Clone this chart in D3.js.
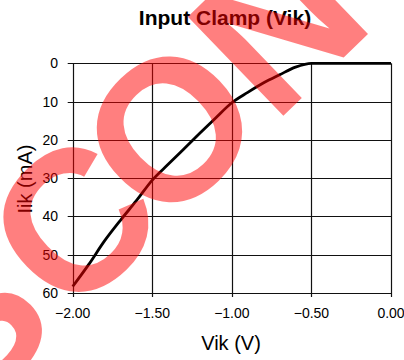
<!DOCTYPE html>
<html><head><meta charset="utf-8">
<script src="https://cdn.jsdelivr.net/npm/d3@7"></script>
<style>html,body{margin:0;padding:0;background:#fff;}svg{display:block;}</style>
</head><body>
<script>
const vik = [-2.0,-1.9,-1.8,-1.7,-1.6,-1.5,-1.4,-1.3,-1.2,-1.1,-1.0,-0.9,-0.8,-0.7,-0.6,-0.5,-0.4,-0.3,-0.2,-0.1,0.0];
const iik = [58.3,52.6,46.4,41.0,35.9,30.5,26.4,22.3,18.2,14.2,10.3,7.6,5.1,3.0,1.0,0,0,0,0,0,0];
const xTicks = [-2.0,-1.5,-1.0,-0.5,0.0];
const yTicks = [0,10,20,30,40,50,60];
const titleText = "Input Clamp (Vik)";
const xTitle = "Vik (V)";
const yTitle = "Iik (mA)";
const watermark = "DISCONTINUED";

const W = 404, H = 360;
const svg = d3.select("body").append("svg").attr("width", W).attr("height", H);
const font = "'Liberation Sans', Arial, Helvetica, sans-serif";

const x = d3.scaleLinear().domain([-2, 0]).range([72.7, 391]);
const y = d3.scaleLinear().domain([0, 60]).range([63.3, 293]);

// grid
const g = svg.append("g");
g.selectAll("line.v").data(xTicks).join("line")
  .attr("x1", d => Math.round(x(d)) + 0.5).attr("x2", d => Math.round(x(d)) + 0.5)
  .attr("y1", y(0)).attr("y2", y(60) + 4)
  .attr("stroke", "#111").attr("stroke-width", 1.2);
g.selectAll("line.h").data(yTicks).join("line")
  .attr("y1", d => Math.round(y(d)) + 0.5).attr("y2", d => Math.round(y(d)) + 0.5)
  .attr("x1", x(-2) - 5).attr("x2", x(0))
  .attr("stroke", "#111").attr("stroke-width", 1.2);

// tick labels
g.selectAll("text.yl").data(yTicks).join("text")
  .attr("x", 58).attr("y", d => y(d) + 5)
  .attr("text-anchor", "end").attr("font-family", font).attr("font-size", 14)
  .attr("fill", "#000").text(d => d);
g.selectAll("text.xl").data(xTicks).join("text")
  .attr("x", d => x(d)).attr("y", 318)
  .attr("text-anchor", "middle").attr("font-family", font).attr("font-size", 14)
  .attr("fill", "#000").text(d => d3.format(".2f")(d));

// titles
svg.append("text").attr("x", 225).attr("y", 25).attr("text-anchor", "middle")
  .attr("font-family", font).attr("font-size", 21).attr("font-weight", "bold").text(titleText);
svg.append("text").attr("x", 231).attr("y", 350).attr("text-anchor", "middle")
  .attr("font-family", font).attr("font-size", 20).text(xTitle);
svg.append("text").attr("transform", "translate(32,179) rotate(-90)").attr("text-anchor", "middle")
  .attr("font-family", font).attr("font-size", 20).text(yTitle);

// curve
const data = vik.map((v, i) => [v, iik[i]]);
svg.append("path").datum(data)
  .attr("d", d3.line().x(d => x(d[0])).y(d => y(d[1])).curve(d3.curveMonotoneX))
  .attr("fill", "none").attr("stroke", "#000").attr("stroke-width", 2.8);

// watermark
svg.append("text").attr("transform", "translate(-182,565) rotate(-44)")
  .attr("dx", "0 0 8 8 -16")
  .attr("font-family", font).attr("font-size", 200).attr("font-weight", "bold")
  .attr("fill", "rgb(255,0,0)").attr("fill-opacity", 0.5).text(watermark);
</script>
</body></html>
